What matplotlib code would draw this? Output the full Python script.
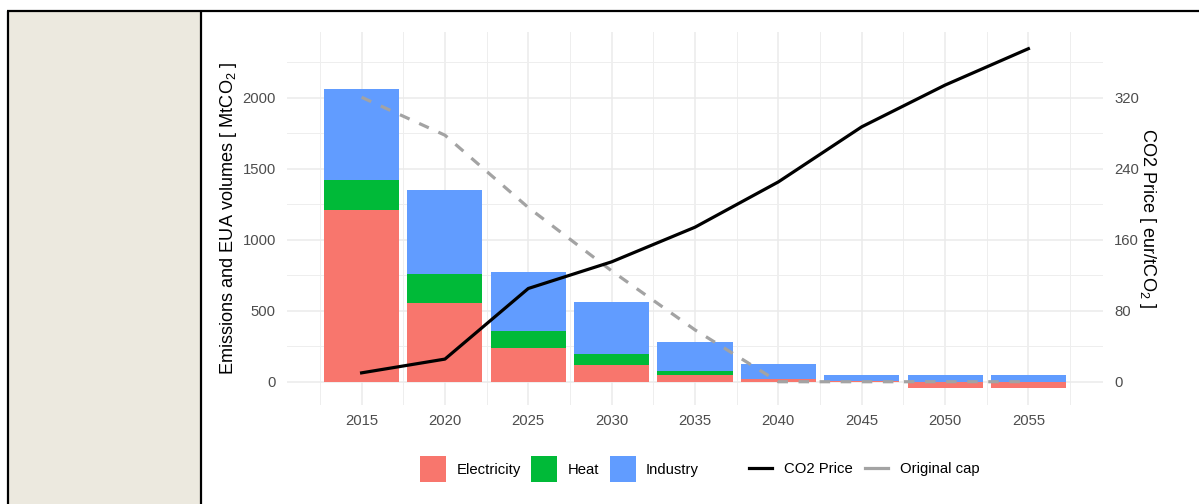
import numpy as np
import matplotlib
matplotlib.use("Agg")
import matplotlib.pyplot as plt
from matplotlib.patches import Patch, Rectangle
from matplotlib.lines import Line2D

plt.rcParams["font.family"] = ["Liberation Sans", "DejaVu Sans"]
plt.rcParams["mathtext.fontset"] = "custom"
plt.rcParams["mathtext.rm"] = "Liberation Sans"
plt.rcParams["mathtext.it"] = "Liberation Sans"

# ---- data -------------------------------------------------------------
years = [2015, 2020, 2025, 2030, 2035, 2040, 2045, 2050, 2055]
electricity = [1207, 557, 240, 119, 49, 19, 2, -47, -47]
heat = [215, 199, 115, 77, 30, 0, 0, 0, 0]
industry = [640, 591, 415, 363, 198, 103, 43, 45, 45]
co2_price = [10, 25.5, 105, 135, 174, 225, 287, 334, 375]
original_cap = [2002, 1735, 1226, 780, 365, 0, 0, 0, 0]

price_scale = 6.25          # 320 eur/tCO2 <-> 2000 MtCO2
sector_names = ["Electricity", "Heat", "Industry"]
sector_colors = ["#F8766D", "#00BA38", "#619CFF"]

# ---- figure -----------------------------------------------------------
W, H = 1199, 504
fig = plt.figure(figsize=(W / 100, H / 100), dpi=100)
fig.patch.set_facecolor("white")

# table-like frame with a beige side cell
fig.add_artist(Rectangle((8 / W, 0), (201 - 8) / W, (H - 11) / H,
                         transform=fig.transFigure, facecolor="#ECE9DF",
                         edgecolor="none", zorder=0))
fig.add_artist(Line2D([7 / W, 1], [1 - 11 / H, 1 - 11 / H],
                      transform=fig.transFigure, color="black", lw=1.6,
                      solid_capstyle="butt"))
fig.add_artist(Line2D([8 / W, 8 / W], [0, 1 - 11 / H],
                      transform=fig.transFigure, color="black", lw=1.6,
                      solid_capstyle="butt"))
fig.add_artist(Line2D([201 / W, 201 / W], [0, 1 - 11 / H],
                      transform=fig.transFigure, color="black", lw=1.6,
                      solid_capstyle="butt"))

ax = fig.add_axes([287 / W, (H - 405.4) / H, 816 / W, 373.7 / H])
ax.set_facecolor("white")

x = np.array(years, dtype=float)
bar_w = 4.5
pos_base = np.zeros(len(years))
neg_base = np.zeros(len(years))
for vals, col in zip([electricity, heat, industry], sector_colors):
    v = np.array(vals, dtype=float)
    base = np.where(v >= 0, pos_base, neg_base)
    ax.bar(x, v, width=bar_w, bottom=base, color=col, edgecolor="none", zorder=2)
    pos_base = pos_base + np.where(v >= 0, v, 0)
    neg_base = neg_base + np.where(v < 0, v, 0)

price_mt = np.array(co2_price) * price_scale
ax.plot(x, original_cap, color="#A3A3A3", lw=2.3, dashes=(3.3, 3.3),
        solid_capstyle="butt", zorder=3)
ax.plot(x, price_mt, color="black", lw=2.3, zorder=4, solid_joinstyle="round")

# limits with 5% expansion like ggplot
xmin, xmax = x[0] - bar_w / 2, x[-1] + bar_w / 2
xr = xmax - xmin
ax.set_xlim(xmin - 0.05 * xr, xmax + 0.05 * xr)
ymin = min(neg_base.min(), 0)
ymax = max(pos_base.max(), price_mt.max(), max(original_cap))
yr = ymax - ymin
ax.set_ylim(ymin - 0.05 * yr, ymax + 0.05 * yr)

ax.set_xticks(years)
ax.set_xticks(np.arange(2012.5, 2060, 5), minor=True)
ax.set_yticks([0, 500, 1000, 1500, 2000])
ax.set_yticks([250, 750, 1250, 1750, 2250], minor=True)
ax.grid(which="major", color="#EBEBEB", lw=1.1, zorder=0)
ax.grid(which="minor", color="#EEEEEE", lw=0.7, zorder=0)
ax.set_axisbelow(True)
for s in ax.spines.values():
    s.set_visible(False)
ax.tick_params(which="both", length=0, labelsize=10.7, labelcolor="#4D4D4D")
ax.tick_params(axis="y", pad=8)
ax.tick_params(axis="x", pad=6)

ax.set_ylabel(r"Emissions and EUA volumes [ MtCO$_{\mathrm{2}}$ ]", fontsize=13.1,
              va="center", ha="center")
ax.yaxis.set_label_coords(-0.0723, 0.5)

sec = ax.secondary_yaxis("right", functions=(lambda v: v / price_scale,
                                             lambda v: v * price_scale))
sec.set_yticks([0, 80, 160, 240, 320])
sec.tick_params(length=0, labelsize=10.7, labelcolor="#4D4D4D", pad=8)
for s in sec.spines.values():
    s.set_visible(False)
ax.text(1.054, 0.5, r"CO2 Price [ eur/tCO$_{\mathrm{2}}$ ]", fontsize=13.1,
        rotation=-90, va="center", ha="center", transform=ax.transAxes,
        rotation_mode="anchor")

# legends
fill_handles = [Patch(facecolor=c, edgecolor="none", label=n)
                for n, c in zip(sector_names, sector_colors)]
leg1 = fig.legend(handles=fill_handles, loc="center", ncol=3, frameon=False,
                  bbox_to_anchor=(559.5 / W, 35 / H), fontsize=10.7,
                  handlelength=1.75, handleheight=2.4, handletextpad=0.7,
                  columnspacing=0.7, borderpad=0)
line_handles = [Line2D([], [], color="black", lw=2.3, label="CO2 Price"),
                Line2D([], [], color="#A3A3A3", lw=2.3, label="Original cap")]
leg2 = fig.legend(handles=line_handles, loc="center", ncol=2, frameon=False,
                  bbox_to_anchor=(864.5 / W, 35 / H), fontsize=10.7,
                  handlelength=1.55, handletextpad=0.8, columnspacing=0.8,
                  borderpad=0)

fig.savefig("out.png", dpi=100)
